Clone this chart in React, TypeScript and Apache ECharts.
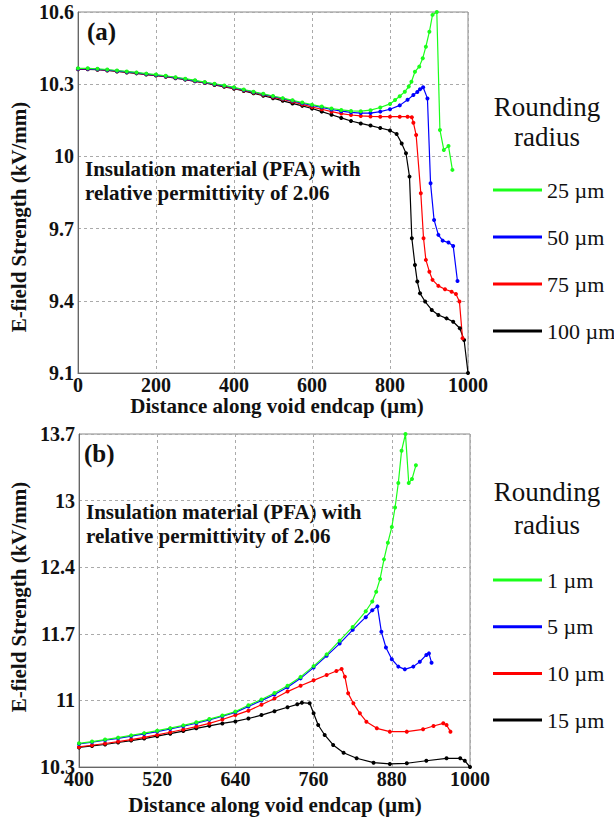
import React, { useEffect, useRef } from "react";
import * as echarts from "echarts";

// ---------- axes ----------
const xTicksA = [0, 200, 400, 600, 800, 1000];
const yTicksA = [9.1, 9.4, 9.7, 10, 10.3, 10.6];
const yLabelsA = ["9.1", "9.4", "9.7", "10", "10.3", "10.6"];
const xTicksB = [400, 520, 640, 760, 880, 1000];
const yTicksB = [10.3, 10.98, 11.66, 12.34, 13.02, 13.7];
const yLabelsB = ["10.3", "11", "11.7", "12.4", "13", "13.7"];

const namesA = ["25 µm", "50 µm", "75 µm", "100 µm"];
const namesB = ["1 µm", "5 µm", "10 µm", "15 µm"];
const colors = ["#1aff1a", "#0000ff", "#ff0000", "#000000"];

// ---------- panel (a) ----------
const a25: number[][] = [
  [0, 10.366], [25, 10.366], [50, 10.364], [75, 10.361], [100, 10.357], [125, 10.353], [150, 10.349],
  [175, 10.344], [200, 10.34], [225, 10.335], [250, 10.329], [275, 10.323], [300, 10.316], [325, 10.309],
  [350, 10.302], [375, 10.295], [400, 10.287], [425, 10.278], [450, 10.269], [475, 10.26], [500, 10.251],
  [525, 10.242], [550, 10.233], [575, 10.224], [600, 10.215], [625, 10.207], [650, 10.199], [675, 10.193],
  [700, 10.189], [725, 10.188], [750, 10.192], [775, 10.203], [800, 10.218], [813, 10.234], [825, 10.25],
  [838, 10.269], [848, 10.29], [855, 10.31], [864, 10.352], [875, 10.373], [884, 10.408], [892, 10.456],
  [901, 10.518], [909, 10.588], [920, 10.6], [928, 10.11], [938, 10.027], [950, 10.043], [960, 9.944],
];
const a50: number[][] = [
  [0, 10.364], [25, 10.364], [50, 10.362], [75, 10.359], [100, 10.355], [125, 10.351], [150, 10.347],
  [175, 10.342], [200, 10.338], [225, 10.333], [250, 10.327], [275, 10.321], [300, 10.314], [325, 10.307],
  [350, 10.3], [375, 10.293], [400, 10.285], [425, 10.276], [450, 10.267], [475, 10.258], [500, 10.249],
  [525, 10.24], [550, 10.231], [575, 10.221], [600, 10.212], [625, 10.204], [650, 10.195], [675, 10.188],
  [700, 10.183], [725, 10.18], [750, 10.18], [775, 10.186], [800, 10.196], [825, 10.212], [845, 10.235],
  [860, 10.255], [870, 10.268], [877, 10.279], [885, 10.287], [896, 10.241], [904, 9.888], [913, 9.736],
  [924, 9.674], [935, 9.65], [950, 9.642], [962, 9.628], [973, 9.482],
];
const a75: number[][] = [
  [0, 10.363], [25, 10.363], [50, 10.361], [75, 10.358], [100, 10.354], [125, 10.35], [150, 10.346],
  [175, 10.341], [200, 10.337], [225, 10.332], [250, 10.326], [275, 10.32], [300, 10.313], [325, 10.306],
  [350, 10.299], [375, 10.291], [400, 10.283], [425, 10.274], [450, 10.265], [475, 10.256], [500, 10.246],
  [525, 10.237], [550, 10.227], [575, 10.216], [600, 10.205], [625, 10.196], [650, 10.186], [675, 10.178],
  [700, 10.172], [725, 10.168], [750, 10.166], [775, 10.165], [800, 10.165], [825, 10.165], [845, 10.165],
  [856, 10.163], [860, 10.14], [867, 10.089], [879, 9.847], [886, 9.66], [892, 9.57], [901, 9.521],
  [909, 9.487], [924, 9.462], [941, 9.448], [958, 9.438], [969, 9.428], [978, 9.397], [986, 9.244],
];
const a100: number[][] = [
  [0, 10.362], [25, 10.362], [50, 10.36], [75, 10.357], [100, 10.353], [125, 10.349], [150, 10.345],
  [175, 10.34], [200, 10.336], [225, 10.331], [250, 10.325], [275, 10.319], [300, 10.312], [325, 10.305],
  [350, 10.297], [375, 10.289], [400, 10.281], [425, 10.272], [450, 10.262], [475, 10.252], [500, 10.242],
  [525, 10.231], [550, 10.22], [575, 10.21], [600, 10.199], [625, 10.186], [650, 10.173], [675, 10.16],
  [700, 10.147], [725, 10.137], [750, 10.128], [775, 10.118], [800, 10.108], [817, 10.093], [830, 10.054],
  [841, 10.013], [850, 9.916], [856, 9.66], [864, 9.549], [870, 9.48], [877, 9.431], [890, 9.397],
  [907, 9.362], [924, 9.341], [945, 9.327], [962, 9.313], [979, 9.286], [990, 9.237], [1000, 9.1],
];

// ---------- panel (b) ----------
const b1: number[][] = [
  [400, 10.542], [420, 10.56], [440, 10.58], [460, 10.6], [480, 10.623], [500, 10.646], [520, 10.671],
  [540, 10.697], [560, 10.725], [580, 10.756], [600, 10.789], [620, 10.825], [640, 10.866], [660, 10.93],
  [680, 10.99], [700, 11.055], [720, 11.13], [740, 11.22], [760, 11.33], [780, 11.45], [800, 11.59],
  [820, 11.73], [840, 11.89], [850, 11.99], [856, 12.09], [862, 12.22], [868, 12.42], [874, 12.59],
  [880, 12.75], [885, 12.95], [890, 13.2], [895, 13.53], [901, 13.7], [906, 13.2], [911, 13.24], [917, 13.38],
];
const b5: number[][] = [
  [400, 10.535], [420, 10.553], [440, 10.573], [460, 10.593], [480, 10.615], [500, 10.638], [520, 10.662],
  [540, 10.688], [560, 10.716], [580, 10.747], [600, 10.781], [620, 10.818], [640, 10.858], [660, 10.918],
  [680, 10.978], [700, 11.04], [720, 11.115], [740, 11.205], [760, 11.315], [780, 11.435], [800, 11.56],
  [820, 11.7], [840, 11.83], [850, 11.9], [858, 11.94], [864, 11.68], [871, 11.52], [880, 11.4],
  [890, 11.325], [900, 11.297], [913, 11.325], [923, 11.375], [933, 11.444], [937, 11.46], [941, 11.365],
];
const b10: number[][] = [
  [400, 10.505], [420, 10.522], [440, 10.54], [460, 10.56], [480, 10.58], [500, 10.603], [520, 10.628],
  [540, 10.655], [560, 10.683], [580, 10.713], [600, 10.745], [620, 10.785], [640, 10.83], [660, 10.875],
  [680, 10.935], [700, 11.0], [720, 11.07], [740, 11.13], [760, 11.185], [780, 11.24], [795, 11.28],
  [803, 11.3], [808, 11.222], [813, 11.052], [821, 10.95], [831, 10.848], [841, 10.763], [857, 10.695],
  [877, 10.661], [903, 10.661], [928, 10.685], [944, 10.719], [959, 10.746], [964, 10.729], [970, 10.661],
];
const b15: number[][] = [
  [400, 10.5], [420, 10.515], [440, 10.53], [460, 10.55], [480, 10.57], [500, 10.59], [520, 10.615],
  [540, 10.64], [560, 10.667], [580, 10.695], [600, 10.72], [620, 10.745], [640, 10.765], [660, 10.795],
  [680, 10.83], [700, 10.87], [720, 10.91], [735, 10.94], [742, 10.957], [754, 10.95], [760, 10.848],
  [767, 10.729], [777, 10.627], [790, 10.525], [806, 10.446], [826, 10.389], [852, 10.344], [877, 10.331],
  [903, 10.338], [933, 10.364], [964, 10.389], [985, 10.389], [992, 10.364], [1000, 10.3],
];

const seriesA = [a25, a50, a75, a100];
const seriesB = [b1, b5, b10, b15];

const FONT = "Liberation Serif";

function labelFor(ticks: number[], labels: string[]) {
  return (v: number) => {
    const i = ticks.findIndex((t) => Math.abs(t - v) < 1e-6);
    return i >= 0 ? labels[i] : "";
  };
}

function xAxisCfg(grid: number, min: number, max: number, ticks: number[]) {
  return {
    type: "value",
    gridIndex: grid,
    min,
    max,
    axisLine: { show: true, lineStyle: { color: "#666", width: 1 } },
    axisTick: { show: false, customValues: ticks },
    axisLabel: {
      customValues: ticks,
      margin: 6,
      color: "#111",
      fontFamily: FONT,
      fontWeight: "bold",
      fontSize: 20,
      lineHeight: 12,
      formatter: (v: number) => String(v),
    },
    splitLine: { show: true, lineStyle: { color: "#aaa", type: [3, 3], width: 1 } },
  };
}

function yAxisCfg(grid: number, min: number, max: number, ticks: number[], labels: string[]) {
  return {
    type: "value",
    gridIndex: grid,
    min,
    max,
    axisLine: { show: true, lineStyle: { color: "#666", width: 1 } },
    axisTick: { show: false, customValues: ticks },
    axisLabel: {
      customValues: ticks,
      margin: 4,
      color: "#111",
      fontFamily: FONT,
      fontWeight: "bold",
      fontSize: 20,
      lineHeight: 12,
      formatter: labelFor(ticks, labels),
    },
    splitLine: { show: true, lineStyle: { color: "#aaa", type: [3, 3], width: 1 } },
  };
}

function makeSeries(names: string[], data: number[][][], grid: number) {
  // draw black first so green ends up on top
  const order = [3, 2, 1, 0];
  return order.map((i) => ({
    type: "line",
    name: names[i],
    xAxisIndex: grid,
    yAxisIndex: grid,
    data: data[i],
    showSymbol: true,
    symbol: "circle",
    symbolSize: 4,
    clip: false,
    color: colors[i],
    lineStyle: { width: 1.2, color: colors[i] },
    itemStyle: { color: colors[i] },
  }));
}

function txt(x: number, y: number, text: string, size: number, bold: boolean, align = "left", rotation = 0) {
  return {
    type: "text",
    x,
    y,
    rotation,
    silent: true,
    style: {
      text,
      fontFamily: FONT,
      fontSize: size,
      fontWeight: bold ? "bold" : "normal",
      fill: "#111",
      textAlign: align,
      textVerticalAlign: "middle",
    },
  };
}

export default function App() {
  const ref = useRef<HTMLDivElement>(null);
  useEffect(() => {
    if (!ref.current) return;
    const chart = echarts.init(ref.current, undefined, { renderer: "svg" });
    const legendBase = {
      orient: "vertical",
      left: 488,
      icon: "rect",
      itemWidth: 49,
      itemHeight: 3,
      selectedMode: false,
      textStyle: { fontFamily: FONT, fontSize: 22, lineHeight: 24, color: "#111" },
    };
    const option: any = {
      animation: false,
      backgroundColor: "#fff",
      textStyle: { fontFamily: FONT },
      grid: [
        { left: 78, right: 146, top: 12, height: 361, show: true, borderColor: "#888", borderWidth: 1, backgroundColor: "transparent" },
        { left: 79, right: 144, top: 434, height: 333, show: true, borderColor: "#888", borderWidth: 1, backgroundColor: "transparent" },
      ],
      xAxis: [xAxisCfg(0, 0, 1000, xTicksA), xAxisCfg(1, 400, 1000, xTicksB)],
      yAxis: [yAxisCfg(0, 9.1, 10.6, yTicksA, yLabelsA), yAxisCfg(1, 10.3, 13.7, yTicksB, yLabelsB)],
      legend: [
        { ...legendBase, data: namesA, top: 173, itemGap: 23 },
        { ...legendBase, data: namesB, top: 563, itemGap: 22.7 },
      ],
      graphic: [
        txt(87, 31, "(a)", 25, true),
        txt(85, 169, "Insulation material (PFA) with", 21, true),
        txt(85, 193, "relative permittivity of 2.06", 21, true),
        txt(277, 406, "Distance along void endcap (µm)", 21, true, "center"),
        txt(19, 217, "E-field Strength (kV/mm)", 21, true, "center", Math.PI / 2),
        txt(547, 107, "Rounding", 27, false, "center"),
        txt(547, 137, "radius", 27, false, "center"),

        txt(84, 453, "(b)", 25, true),
        txt(86, 512, "Insulation material (PFA) with", 21, true),
        txt(86, 536, "relative permittivity of 2.06", 21, true),
        txt(275, 805, "Distance along void endcap (µm)", 21, true, "center"),
        txt(19, 597, "E-field Strength (kV/mm)", 21, true, "center", Math.PI / 2),
        txt(547, 492, "Rounding", 27, false, "center"),
        txt(547, 525, "radius", 27, false, "center"),
      ],
      series: [...makeSeries(namesA, seriesA, 0), ...makeSeries(namesB, seriesB, 1)],
    };
    chart.setOption(option);
    return () => chart.dispose();
  }, []);
  return (
    <div
      ref={ref}
      style={{ position: "absolute", left: 0, top: 0, width: 614, height: 817, background: "#fff" }}
    />
  );
}
